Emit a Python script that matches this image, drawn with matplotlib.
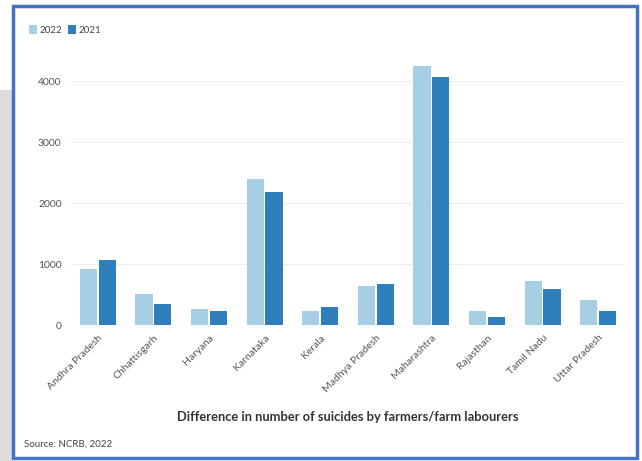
import matplotlib.pyplot as plt
from matplotlib.patches import Rectangle
import numpy as np

plt.rcParams['font.family'] = ['Lato', 'DejaVu Sans']

states = ["Andhra Pradesh", "Chhattisgarh", "Haryana", "Karnataka", "Kerala",
          "Madhya Pradesh", "Maharashtra", "Rajasthan", "Tamil Nadu", "Uttar Pradesh"]
vals_2022 = [918, 503, 262, 2393, 230, 639, 4251, 235, 727, 410]
vals_2021 = [1066, 339, 230, 2180, 300, 677, 4077, 137, 596, 235]
yticks = [0, 1000, 2000, 3000, 4000]

c22 = "#a6cfe4"
c21 = "#2e7fbb"
grey = "#555555"

fig = plt.figure(figsize=(6.42, 4.61), dpi=100)
fig.patch.set_facecolor("white")

# grey backdrop to the left of the framed panel, then the blue frame
fig.patches.append(Rectangle((0, 0), 12/642, 1 - 90/461, transform=fig.transFigure,
                             facecolor="#dcdcdc", edgecolor="none", zorder=0))
fig.patches.append(Rectangle((13/642, 3/461), 624/642, 452/461, transform=fig.transFigure,
                             facecolor="white", edgecolor="#4472c4", linewidth=2.5, zorder=1))

ax = fig.add_axes([70/642, 1 - 325/461, 556/642, 274/461])
ax.set_zorder(2)
ax.patch.set_alpha(0)

x = np.arange(len(states))
w = 0.31
ax.bar(x - 0.17, vals_2022, w, color=c22, label="2022", zorder=3)
ax.bar(x + 0.17, vals_2021, w, color=c21, label="2021", zorder=3)

ax.set_xlim(-0.5, len(states) - 0.5)
ax.set_ylim(0, 4500)
ax.set_yticks(yticks)
ax.set_yticklabels([str(v) for v in yticks], fontsize=7.5, color=grey)
ax.set_xticks(x)
ax.set_xticklabels(states, rotation=45, ha="right", rotation_mode="anchor",
                   fontsize=7.5, color=grey)
ax.tick_params(length=0, pad=6)
ax.grid(axis="y", color="#eeeeee", linewidth=0.8, zorder=0)
for s in ax.spines.values():
    s.set_visible(False)

ax.set_xlabel("Difference in number of suicides by farmers/farm labourers",
              fontsize=9.3, fontweight="bold", color="#333333", labelpad=12)

fig.legend(loc="upper left", bbox_to_anchor=(20/642, 1 - 16/461), ncol=2,
           frameon=False, fontsize=7, handlelength=0.8, handleheight=1.1,
           handletextpad=0.3, columnspacing=0.6, labelcolor="#444444")

fig.text(24/642, 1 - 444/461, "Source: NCRB, 2022", fontsize=7, color="#444444",
         va="center", zorder=3)

fig.savefig("out.png", dpi=100)
